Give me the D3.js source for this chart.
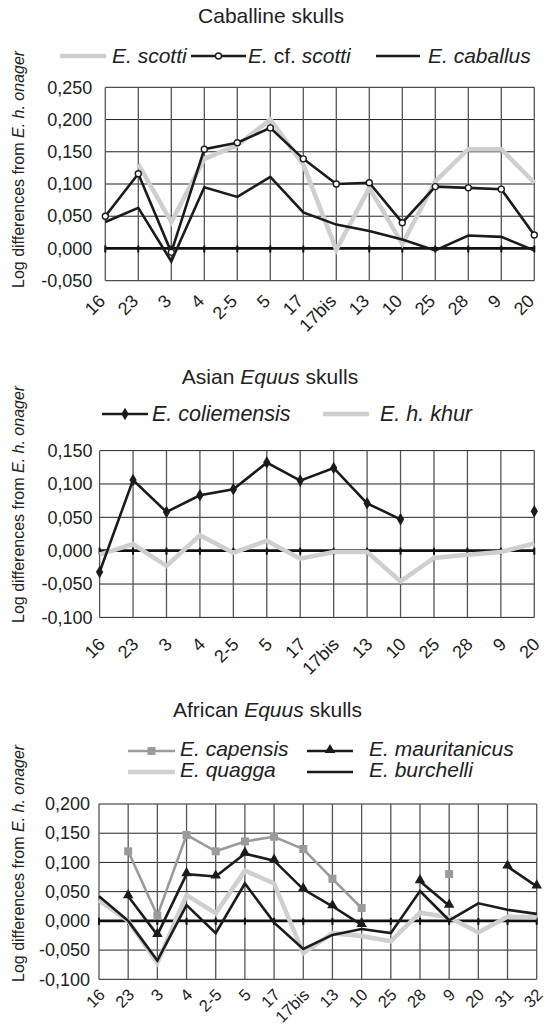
<!DOCTYPE html>
<html>
<head>
<meta charset="utf-8">
<script src="https://cdn.jsdelivr.net/npm/d3@7"></script>
<style>
  body { margin: 0; background: #fff; }
  svg { display: block; font-family: "Liberation Sans", Arial, Helvetica, sans-serif; }
</style>
</head>
<body>
<svg id="fig" width="555" height="1025"></svg>
<script>
// ---- Caballine skulls ----
const caballineSites = ["16", "23", "3", "4", "2-5", "5", "17", "17bis", "13", "10", "25", "28", "9", "20"];
const scotti   = [null, 0.131, 0.041, 0.139, 0.160, 0.200, 0.130, -0.002, 0.094, 0.007, 0.104, 0.154, 0.154, 0.102];
const cfScotti = [0.050, 0.116, -0.006, 0.154, 0.164, 0.187, 0.139, 0.100, 0.102, 0.040, 0.096, 0.094, 0.092, 0.021];
const caballus = [0.041, 0.063, -0.020, 0.095, 0.080, 0.111, 0.056, 0.037, 0.027, 0.014, -0.003, 0.020, 0.018, -0.003];
const caballineTicks = [-0.05, 0, 0.05, 0.10, 0.15, 0.20, 0.25];

// ---- Asian Equus skulls ----
const asianSites = ["16", "23", "3", "4", "2-5", "5", "17", "17bis", "13", "10", "25", "28", "9", "20"];
const coliemensis = [-0.032, 0.106, 0.058, 0.083, 0.092, 0.132, 0.105, 0.124, 0.071, 0.047, null, null, null, 0.059];
const khur        = [-0.006, 0.010, -0.023, 0.023, -0.003, 0.015, -0.012, -0.002, -0.002, -0.046, -0.011, -0.006, -0.002, 0.011];
const asianTicks = [-0.10, -0.05, 0, 0.05, 0.10, 0.15];

// ---- African Equus skulls ----
const africanSites = ["16", "23", "3", "4", "2-5", "5", "17", "17bis", "13", "10", "25", "28", "9", "20", "31", "32"];
const capensis     = [null, 0.119, 0.009, 0.147, 0.119, 0.136, 0.144, 0.123, 0.072, 0.022, null, null, 0.080, null, null, null];
const mauritanicus = [null, 0.042, -0.024, 0.080, 0.076, 0.115, 0.103, 0.054, 0.025, -0.007, null, 0.068, 0.026, null, 0.093, 0.059];
const quagga       = [0.035, 0.000, -0.072, 0.044, 0.013, 0.086, 0.064, -0.055, -0.021, -0.026, -0.035, 0.014, 0.006, -0.020, 0.007, 0.006];
const burchelli    = [0.042, 0.000, -0.068, 0.027, -0.021, 0.064, -0.003, -0.048, -0.024, -0.014, -0.021, 0.051, 0.001, 0.030, 0.019, 0.012];
const africanTicks = [-0.10, -0.05, 0, 0.05, 0.10, 0.15, 0.20];

const svg = d3.select("#fig");
const fmt = v => d3.format(".3f")(v).replace(".", ",").replace("\u2212", "-");

// line styles
const STYLE = {
  lightGrey: { color: "#cfcfcf", width: 4.5 },
  black:     { color: "#1b1b1b", width: 2.6 },
  midGrey:   { color: "#9b9b9b", width: 2.6 }
};

function runs(sel, parts) {
  parts.forEach(p => sel.append("tspan").attr("font-style", p.i ? "italic" : "normal").text(p.t));
}

function drawMarker(g, kind, x, y, color) {
  if (kind === "circle") {
    g.append("circle").attr("cx", x).attr("cy", y).attr("r", 3)
      .attr("fill", "#fff").attr("stroke", color).attr("stroke-width", 1.4);
  } else if (kind === "diamond") {
    g.append("path").attr("transform", `translate(${x},${y})`)
      .attr("d", d3.symbol(d3.symbolDiamond, 46)()).attr("fill", color);
  } else if (kind === "square") {
    g.append("rect").attr("x", x - 4).attr("y", y - 4).attr("width", 8).attr("height", 8).attr("fill", color);
  } else if (kind === "triangle") {
    g.append("path").attr("transform", `translate(${x},${y - 1})`)
      .attr("d", d3.symbol(d3.symbolTriangle, 48)()).attr("fill", color);
  }
}

function panel(cfg) {
  const g = svg.append("g");
  const x = d3.scalePoint().domain(cfg.sites).range([cfg.left, cfg.right]);
  const y = d3.scaleLinear().domain(d3.extent(cfg.ticks)).range([cfg.bottom, cfg.top]);

  // title
  const title = g.append("text").attr("x", cfg.titleX).attr("y", cfg.titleY)
    .attr("text-anchor", "middle").attr("font-size", 21).attr("fill", "#222");
  runs(title, cfg.title);

  // y tick labels
  const yAxis = d3.axisLeft(y).tickValues(cfg.ticks).tickFormat(fmt).tickSize(0).tickPadding(cfg.yPad);
  const ya = g.append("g").attr("transform", `translate(${cfg.left},0)`).call(yAxis);
  ya.select(".domain").remove();
  ya.selectAll("text").attr("font-size", 18).attr("fill", "#222").attr("font-family", null);

  // horizontal grid
  g.append("g").selectAll("line").data(cfg.ticks).join("line")
    .attr("x1", cfg.left).attr("x2", cfg.right)
    .attr("y1", d => y(d)).attr("y2", d => y(d))
    .attr("stroke", "#222").attr("stroke-width", 1);

  // vertical grid at every site
  g.append("g").selectAll("line").data(cfg.sites).join("line")
    .attr("x1", d => x(d)).attr("x2", d => x(d))
    .attr("y1", cfg.top).attr("y2", cfg.bottom)
    .attr("stroke", "#555").attr("stroke-width", 1.3);

  // zero line with small ticks
  g.append("line").attr("x1", cfg.left).attr("x2", cfg.right)
    .attr("y1", y(0)).attr("y2", y(0)).attr("stroke", "#111").attr("stroke-width", 2.8);
  g.append("g").selectAll("line").data(cfg.sites).join("line")
    .attr("x1", d => x(d)).attr("x2", d => x(d))
    .attr("y1", y(0) - 3).attr("y2", y(0) + 4)
    .attr("stroke", "#111").attr("stroke-width", 2);

  // x tick labels, rotated
  g.append("g").selectAll("text").data(cfg.sites).join("text")
    .attr("transform", d => `translate(${x(d) + cfg.xLabDx},${cfg.bottom + cfg.xLabOff}) rotate(-45)`)
    .attr("text-anchor", "end").attr("font-size", cfg.xLabSize).attr("fill", "#222")
    .text(d => d);

  // y axis title
  const yl = g.append("text")
    .attr("transform", `translate(${cfg.yLabX},${cfg.yLabY}) rotate(-90)`)
    .attr("text-anchor", "start").attr("font-size", 16).attr("fill", "#222");
  runs(yl, [{ t: "Log differences from ", i: false }, { t: "E. h. onager", i: true }]);

  // series lines
  const line = d3.line().defined(d => d.v != null).x(d => x(d.s)).y(d => y(d.v));
  cfg.series.forEach(s => {
    const pts = cfg.sites.map((site, i) => ({ s: site, v: s.values[i] }));
    g.append("path").datum(pts).attr("d", line).attr("fill", "none")
      .attr("stroke", s.style.color).attr("stroke-width", s.style.width)
      .attr("stroke-linejoin", "miter");
    if (s.marker) {
      const mg = g.append("g");
      pts.filter(p => p.v != null).forEach(p => drawMarker(mg, s.marker, x(p.s), y(p.v), s.style.color));
    }
  });

  // legend
  cfg.legend.forEach(item => {
    const s = item.series;
    g.append("line").attr("x1", item.x1).attr("x2", item.x2).attr("y1", item.ly).attr("y2", item.ly)
      .attr("stroke", s.style.color).attr("stroke-width", s.style.width);
    if (s.marker) drawMarker(g, s.marker, (item.x1 + item.x2) / 2, item.ly, s.style.color);
    const t = g.append("text").attr("x", item.tx).attr("y", item.ty)
      .attr("font-size", cfg.legendSize).attr("fill", "#222");
    runs(t, item.label);
  });
}

// Caballine
const sScotti   = { values: scotti,   style: STYLE.lightGrey };
const sCfScotti = { values: cfScotti, style: STYLE.black, marker: "circle" };
const sCaballus = { values: caballus, style: STYLE.black };
panel({
  sites: caballineSites, ticks: caballineTicks,
  left: 105.3, right: 534.3, top: 87.3, bottom: 280.7,
  yPad: 13, xLabDx: 1, xLabOff: 21.5, xLabSize: 18,
  title: [{ t: "Caballine skulls", i: false }], titleX: 271, titleY: 23,
  yLabX: 23.5, yLabY: 288,
  legendSize: 21,
  series: [sScotti, sCaballus, sCfScotti],
  legend: [
    { series: sScotti,   x1: 60,  x2: 106, ly: 56, tx: 112, ty: 63, label: [{ t: "E. scotti", i: true }] },
    { series: sCfScotti, x1: 191, x2: 246, ly: 56, tx: 248, ty: 63, label: [{ t: "E. ", i: true }, { t: "cf. ", i: false }, { t: "scotti", i: true }] },
    { series: sCaballus, x1: 376, x2: 420, ly: 56, tx: 428, ty: 63, label: [{ t: "E. caballus", i: true }] }
  ]
});

// Asian
const sColiemensis = { values: coliemensis, style: STYLE.black, marker: "diamond" };
const sKhur        = { values: khur,        style: STYLE.lightGrey };
panel({
  sites: asianSites, ticks: asianTicks,
  left: 99.6, right: 534.3, top: 450.6, bottom: 617.4,
  yPad: 7, xLabDx: 6.5, xLabOff: 28, xLabSize: 18,
  title: [{ t: "Asian ", i: false }, { t: "Equus", i: true }, { t: " skulls", i: false }], titleX: 270, titleY: 384,
  yLabX: 23.5, yLabY: 623,
  legendSize: 21.5,
  series: [sKhur, sColiemensis],
  legend: [
    { series: sColiemensis, x1: 102, x2: 148, ly: 414, tx: 152, ty: 421, label: [{ t: "E. coliemensis", i: true }] },
    { series: sKhur,        x1: 323, x2: 369, ly: 414, tx: 380, ty: 421, label: [{ t: "E. h. khur", i: true }] }
  ]
});

// African
const sCapensis     = { values: capensis,     style: STYLE.midGrey, marker: "square" };
const sMauritanicus = { values: mauritanicus, style: STYLE.black,   marker: "triangle" };
const sQuagga       = { values: quagga,       style: STYLE.lightGrey };
const sBurchelli    = { values: burchelli,    style: STYLE.black };
panel({
  sites: africanSites, ticks: africanTicks,
  left: 99, right: 536.7, top: 804, bottom: 979.3,
  yPad: 9, xLabDx: 7, xLabOff: 16.5, xLabSize: 16.5,
  title: [{ t: "African ", i: false }, { t: "Equus", i: true }, { t: " skulls", i: false }], titleX: 267.5, titleY: 717,
  yLabX: 23.5, yLabY: 982,
  legendSize: 21,
  series: [sQuagga, sCapensis, sBurchelli, sMauritanicus],
  legend: [
    { series: sCapensis,     x1: 128, x2: 175, ly: 751, tx: 180, ty: 756, label: [{ t: "E. capensis", i: true }] },
    { series: sQuagga,       x1: 128, x2: 175, ly: 772, tx: 180, ty: 777, label: [{ t: "E. quagga", i: true }] },
    { series: sMauritanicus, x1: 307, x2: 353, ly: 751, tx: 369, ty: 756, label: [{ t: "E. mauritanicus", i: true }] },
    { series: sBurchelli,    x1: 307, x2: 353, ly: 772, tx: 369, ty: 777, label: [{ t: "E. burchelli", i: true }] }
  ]
});
</script>
</body>
</html>
